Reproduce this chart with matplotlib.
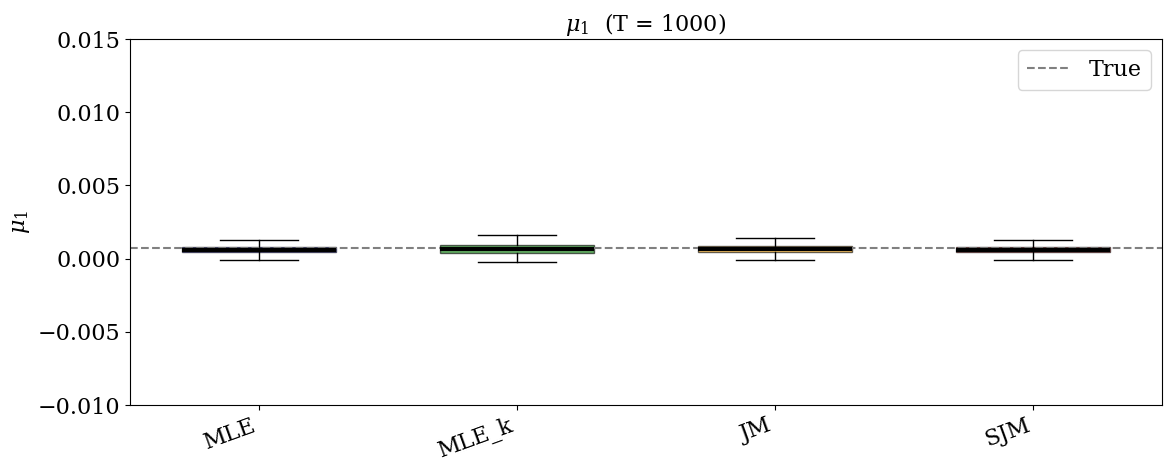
import matplotlib
matplotlib.use("Agg")
import matplotlib.pyplot as plt

plt.rcParams['font.family'] = 'DejaVu Serif'
plt.rcParams['font.size'] = 16
plt.rcParams['mathtext.fontset'] = 'dejavuserif'

methods = ["MLE", "MLE_k", "JM", "SJM"]
colors = ["blue", "green", "orange", "red"]
whislo = [-0.0001, -0.00023, -0.0001, -0.0001]
q1 = [0.00045, 0.00038, 0.00045, 0.00045]
med = [0.00062, 0.00063, 0.00065, 0.00062]
q3 = [0.00078, 0.00093, 0.00085, 0.00078]
whishi = [0.00127, 0.0016, 0.0014, 0.0013]
true_val = 0.0007

stats = [dict(label=m, whislo=a, q1=b, med=c, q3=d, whishi=e, fliers=[])
         for m, a, b, c, d, e in zip(methods, whislo, q1, med, q3, whishi)]

fig = plt.figure(figsize=(11.72, 4.72), dpi=100)
ax = fig.add_axes([130/1172, 1-405/472, 1032/1172, 366/472])
bp = ax.bxp(stats, widths=0.6, patch_artist=True,
            medianprops=dict(color="black", linewidth=3))
for patch, c in zip(bp["boxes"], colors):
    patch.set_facecolor(c)
    patch.set_alpha(0.6)
ax.axhline(true_val, color="gray", linestyle="--", linewidth=1.5, label="True")
ax.set_ylim(-0.01, 0.015)
ax.set_xlim(0.5, 4.5)
ax.set_ylabel(r"$\mu_1$")
ax.set_title(r"$\mu_1$  (T = 1000)", fontsize=16)
plt.setp(ax.get_xticklabels(), rotation=20, ha="right")
ax.legend(loc="upper right")
fig.savefig("out.png", dpi=100)
